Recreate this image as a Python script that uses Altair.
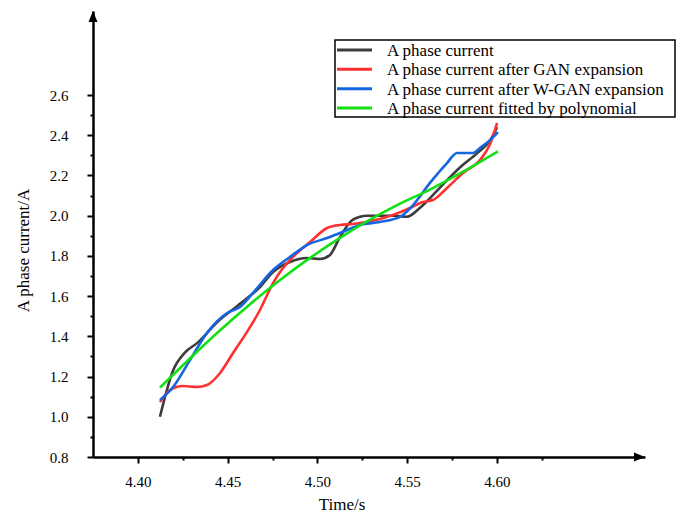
import altair as alt
import pandas as pd

series_names = [
    "A phase current",
    "A phase current after GAN expansion",
    "A phase current after W-GAN expansion",
    "A phase current fitted by polynomial",
]
series_colors = ["#3c3c3c", "#ff3030", "#1565e0", "#12e012"]

black_x = [4.4123, 4.4196, 4.4263, 4.4335, 4.4441, 4.4552, 4.4680, 4.4753, 4.4847, 4.4942,
           4.5015, 4.5070, 4.5126, 4.5198, 4.5276, 4.5421, 4.5499, 4.5572, 4.5683, 4.5794,
           4.5889, 4.5962, 4.6001]
black_y = [1.00, 1.23, 1.32, 1.37, 1.47, 1.55, 1.645, 1.72, 1.77, 1.79,
           1.785, 1.805, 1.894, 1.98, 2.00, 2.00, 1.995, 2.04, 2.14, 2.24,
           2.31, 2.375, 2.44]

red_x = [4.4123, 4.4179, 4.4251, 4.4329, 4.4385, 4.4458, 4.4530, 4.4608, 4.4680, 4.4753,
         4.4792, 4.4864, 4.4959, 4.5054, 4.5126, 4.5198, 4.5276, 4.5421, 4.5516, 4.5588,
         4.5644, 4.5722, 4.5811, 4.5906, 4.5962, 4.6001]
red_y = [1.073, 1.133, 1.153, 1.148, 1.158, 1.218, 1.317, 1.422, 1.531, 1.665,
         1.72, 1.795, 1.869, 1.939, 1.954, 1.959, 1.969, 2.003, 2.038, 2.068,
         2.078, 2.138, 2.212, 2.277, 2.357, 2.461]

blue_x = [4.4123, 4.4196, 4.4290, 4.4385, 4.4497, 4.4569, 4.4641, 4.4753, 4.4847, 4.4942,
          4.5054, 4.5126, 4.5237, 4.5349, 4.5460, 4.5533, 4.5627, 4.5722, 4.5778, 4.5867,
          4.5906, 4.5962, 4.6006]
blue_y = [1.083, 1.148, 1.282, 1.417, 1.516, 1.546, 1.616, 1.730, 1.795, 1.854,
          1.889, 1.914, 1.954, 1.969, 1.994, 2.053, 2.163, 2.262, 2.312, 2.312,
          2.337, 2.376, 2.416]

green_x = [4.4123, 4.4290, 4.4458, 4.4625, 4.4792, 4.4959, 4.5126, 4.5293, 4.5460, 4.5627,
           4.5794, 4.6006]
green_y = [1.145, 1.29, 1.43, 1.56, 1.68, 1.79, 1.89, 1.98, 2.06, 2.13, 2.21, 2.32]

x_ticks = [4.40, 4.45, 4.50, 4.55, 4.60]
x_minor = [4.425, 4.475, 4.525, 4.575, 4.625]
y_ticks = [0.8, 1.0, 1.2, 1.4, 1.6, 1.8, 2.0, 2.2, 2.4, 2.6]
y_minor = [0.9, 1.1, 1.3, 1.5, 1.7, 1.9, 2.1, 2.3, 2.5]

rows = []
for name, xs, ys in zip(series_names, [black_x, red_x, blue_x, green_x],
                        [black_y, red_y, blue_y, green_y]):
    for a, b in zip(xs, ys):
        rows.append({"series": name, "t": a, "v": b})
df = pd.DataFrame(rows)

legend_df = pd.DataFrame({"series": series_names, "row": list(range(len(series_names)))})
one = pd.DataFrame({"k": [0]})

W, H = 552, 446
FONT = "Liberation Serif"

x_scale = alt.Scale(domain=[4.375, 4.6825], zero=False, nice=False)
y_scale = alt.Scale(domain=[0.8, 3.018], zero=False, nice=False)
color_scale = alt.Scale(domain=series_names, range=series_colors)

x_axis = alt.Axis(values=x_ticks, format=".2f", tickSize=6, tickWidth=2, tickColor="black",
                  domainWidth=2.5, domainColor="black", labelFont=FONT, labelFontSize=15,
                  labelColor="black", labelPadding=11, grid=False, labelFlush=False,
                  labelOverlap=False, title="Time/s", titleFont=FONT, titleFontSize=17,
                  titleFontWeight="normal", titleColor="black", titleX=248.5, titleY=39,
                  titleBaseline="top", titleAlign="center", orient="bottom")
y_axis = alt.Axis(values=y_ticks, format=".1f", tickSize=6, tickWidth=2, tickColor="black",
                  domainWidth=2.5, domainColor="black", labelFont=FONT, labelFontSize=15,
                  labelColor="black", labelPadding=19, grid=False, labelFlush=False,
                  labelOverlap=False, title="A phase current/A", titleFont=FONT,
                  titleFontSize=17, titleFontWeight="normal", titleColor="black",
                  titleAngle=270, titleX=-65, titleY=239, titleBaseline="alphabetic",
                  titleAlign="center", orient="left")
x_minor_axis = alt.Axis(values=x_minor, labels=False, tickSize=3, tickWidth=2,
                        tickColor="black", domain=False, grid=False, title=None,
                        orient="bottom")
y_minor_axis = alt.Axis(values=y_minor, labels=False, tickSize=3, tickWidth=2,
                        tickColor="black", domain=False, grid=False, title=None,
                        orient="left")

lines = alt.Chart(df).mark_line(interpolate="monotone", strokeWidth=2.6).encode(
    x=alt.X("t:Q", scale=x_scale, axis=x_axis),
    y=alt.Y("v:Q", scale=y_scale, axis=y_axis),
    color=alt.Color("series:N", scale=color_scale, legend=None),
)

minor = alt.Chart(df).mark_line(opacity=0).encode(
    x=alt.X("t:Q", scale=x_scale, axis=x_minor_axis),
    y=alt.Y("v:Q", scale=y_scale, axis=y_minor_axis),
    detail="series:N",
)

box = alt.Chart(one).mark_rect(fill="white", stroke="black", strokeWidth=1.5).encode(
    x=alt.value(242), x2=alt.value(582), y=alt.value(29), y2=alt.value(106)
)

leg_y = alt.Y("row:Q", scale=alt.Scale(domain=[0, 3], range=[39, 97]), axis=None)
leg_rules = alt.Chart(legend_df).mark_rule(strokeWidth=3).encode(
    x=alt.value(244), x2=alt.value(279), y=leg_y,
    color=alt.Color("series:N", scale=color_scale, legend=None),
)
leg_text = alt.Chart(legend_df).mark_text(
    align="left", baseline="middle", font=FONT, fontSize=17, color="black", dy=1
).encode(x=alt.value(294), y=leg_y, text="series:N")

arrow_up = alt.Chart(one).mark_point(
    shape="M0,0L-0.45,1.1L0.45,1.1Z", filled=True, size=400, color="black", opacity=1,
    strokeWidth=0
).encode(x=alt.value(0), y=alt.value(0))
arrow_right = alt.Chart(one).mark_point(
    shape="M0,0L-1.1,-0.45L-1.1,0.45Z", filled=True, size=400, color="black", opacity=1,
    strokeWidth=0
).encode(x=alt.value(W), y=alt.value(H))

chart = alt.layer(lines, minor, box, leg_rules, leg_text, arrow_up, arrow_right).resolve_scale(
    x="independent", y="independent"
).properties(
    width=W, height=H,
    autosize=alt.AutoSizeParams(type="none"),
    padding={"left": 93, "top": 11, "right": 31, "bottom": 57},
    background="white",
).configure_view(stroke=None)

chart.save("out.html", embed_options={"renderer": "svg", "actions": False})
